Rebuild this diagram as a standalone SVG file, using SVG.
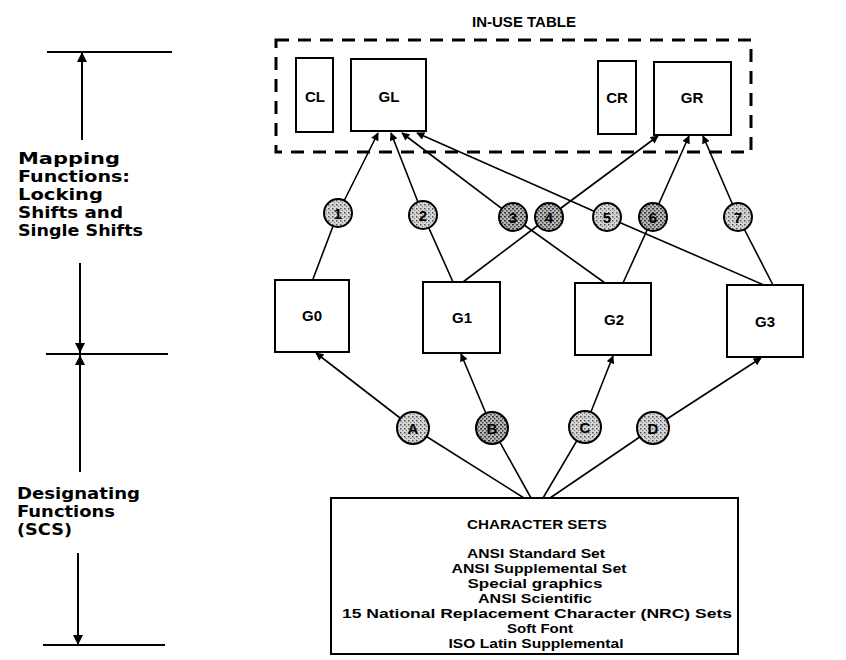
<svg xmlns="http://www.w3.org/2000/svg" width="846" height="660" viewBox="0 0 846 660">
<style>
.box{fill:#fff;stroke:#000;stroke-width:2}
.lbl{font-family:"Liberation Sans",Arial,sans-serif;font-weight:bold;font-size:15px;text-anchor:middle;fill:#000}
.cl{font-family:"Liberation Sans",Arial,sans-serif;font-weight:bold;font-size:15px;text-anchor:middle;fill:#000}
.side{font-family:"DejaVu Sans","Liberation Sans",sans-serif;font-weight:bold;font-size:15px;fill:#000}
.cs{font-family:"Liberation Sans",Arial,sans-serif;font-weight:bold;font-size:13.5px;text-anchor:middle;fill:#000}
.conn{fill:none;stroke:#000;stroke-width:1.6}
.dim{fill:none;stroke:#000;stroke-width:2}
.circ{stroke:#000;stroke-width:2}
</style>
<defs>
<pattern id="stip" width="4" height="4" patternUnits="userSpaceOnUse">
<rect width="4" height="4" fill="#d4d4d4"/>
<rect x="0" y="0" width="1.5" height="1.5" fill="#555"/>
<rect x="2" y="2" width="1" height="1" fill="#777"/>
</pattern>
<pattern id="stip2" width="4" height="4" patternUnits="userSpaceOnUse">
<rect width="4" height="4" fill="#b8b8b8"/>
<rect x="0" y="0" width="2" height="1.5" fill="#333"/>
<rect x="2" y="2" width="1.5" height="1.5" fill="#444"/>
</pattern>
<marker id="ah" viewBox="0 0 10 10" refX="9" refY="5" markerWidth="9" markerHeight="8" markerUnits="userSpaceOnUse" orient="auto">
<path d="M0,0 L10,5 L0,10 Z" fill="#000"/>
</marker>
<marker id="dh" viewBox="0 0 10 10" refX="10" refY="5" markerWidth="10" markerHeight="10" markerUnits="userSpaceOnUse" orient="auto">
<path d="M0,0 L10,5 L0,10 Z" fill="#000"/>
</marker>
</defs>

<text class="lbl" x="524" y="27" font-size="14.5">IN-USE TABLE</text>

<g id="inuse">
<rect x="276" y="40" width="475" height="112" fill="none" stroke="#000" stroke-width="3" stroke-dasharray="13 9"/>
</g>
<g id="CL"><rect class="box" x="296" y="58" width="37" height="74"/><text class="lbl" x="315" y="102">CL</text></g>
<g id="GL"><rect class="box" x="351" y="59" width="75" height="72"/><text class="lbl" x="389" y="102">GL</text></g>
<g id="CR"><rect class="box" x="598" y="61" width="38" height="73"/><text class="lbl" x="617" y="103">CR</text></g>
<g id="GR"><rect class="box" x="654" y="62" width="77" height="73"/><text class="lbl" x="692" y="103">GR</text></g>

<g id="G0"><rect class="box" x="275" y="280" width="74" height="72"/><text class="lbl" x="312" y="321">G0</text></g>
<g id="G1"><rect class="box" x="423" y="282" width="77" height="71"/><text class="lbl" x="462" y="323">G1</text></g>
<g id="G2"><rect class="box" x="575" y="283" width="76" height="72"/><text class="lbl" x="614" y="325">G2</text></g>
<g id="G3"><rect class="box" x="727" y="285" width="76" height="72"/><text class="lbl" x="765" y="327">G3</text></g>

<g id="charsets">
<rect class="box" x="331" y="498" width="407" height="156"/>
<text class="cs" x="537" y="529" textLength="140" lengthAdjust="spacingAndGlyphs">CHARACTER SETS</text>
<text class="cs" x="536" y="558" textLength="138" lengthAdjust="spacingAndGlyphs">ANSI Standard Set</text>
<text class="cs" x="539" y="573" textLength="175" lengthAdjust="spacingAndGlyphs">ANSI Supplemental Set</text>
<text class="cs" x="535" y="588" textLength="135" lengthAdjust="spacingAndGlyphs">Special graphics</text>
<text class="cs" x="535" y="603" textLength="114" lengthAdjust="spacingAndGlyphs">ANSI Scientific</text>
<text class="cs" x="537" y="618" textLength="390" lengthAdjust="spacingAndGlyphs">15 National Replacement Character (NRC) Sets</text>
<text class="cs" x="540" y="633" textLength="66" lengthAdjust="spacingAndGlyphs">Soft Font</text>
<text class="cs" x="536" y="648" textLength="175" lengthAdjust="spacingAndGlyphs">ISO Latin Supplemental</text>
</g>

<g id="connectors">
<polyline class="conn" points="313,279 338,213 378,133" marker-end="url(#ah)"/>
<polyline class="conn" points="453,282 423,215 391,133" marker-end="url(#ah)"/>
<polyline class="conn" points="605,283 513,217 402,133" marker-end="url(#ah)"/>
<polyline class="conn" points="463,282 549,217 658,136" marker-end="url(#ah)"/>
<polyline class="conn" points="764,285 607,217 417,133" marker-end="url(#ah)"/>
<polyline class="conn" points="623,283 653,217 689,136" marker-end="url(#ah)"/>
<polyline class="conn" points="773,285 738,217 703,136" marker-end="url(#ah)"/>
<polyline class="conn" points="524,498 413,428 316,353" marker-end="url(#ah)"/>
<polyline class="conn" points="531,498 492,428 461,354" marker-end="url(#ah)"/>
<polyline class="conn" points="543,498 585,427 613,356" marker-end="url(#ah)"/>
<polyline class="conn" points="550,498 653,428 761,358" marker-end="url(#ah)"/>
</g>

<g id="c1"><circle class="circ" cx="338" cy="213" r="14" fill="url(#stip)"/><text class="cl" x="338" y="218.5">1</text></g>
<g id="c2"><circle class="circ" cx="423" cy="215" r="14" fill="url(#stip)"/><text class="cl" x="423" y="220.5">2</text></g>
<g id="c3"><circle class="circ" cx="513" cy="217" r="14" fill="url(#stip2)"/><text class="cl" x="513" y="222.5">3</text></g>
<g id="c4"><circle class="circ" cx="549" cy="217" r="14" fill="url(#stip2)"/><text class="cl" x="549" y="222.5">4</text></g>
<g id="c5"><circle class="circ" cx="607" cy="217" r="14" fill="url(#stip)"/><text class="cl" x="607" y="222.5">5</text></g>
<g id="c6"><circle class="circ" cx="653" cy="217" r="14" fill="url(#stip2)"/><text class="cl" x="653" y="222.5">6</text></g>
<g id="c7"><circle class="circ" cx="738" cy="217" r="14" fill="url(#stip)"/><text class="cl" x="738" y="222.5">7</text></g>
<g id="cA"><circle class="circ" cx="413" cy="428" r="16" fill="url(#stip)"/><text class="cl" x="413" y="433.5">A</text></g>
<g id="cB"><circle class="circ" cx="492" cy="428" r="16" fill="url(#stip2)"/><text class="cl" x="492" y="433.5">B</text></g>
<g id="cC"><circle class="circ" cx="585" cy="427" r="16" fill="url(#stip)"/><text class="cl" x="585" y="432.5">C</text></g>
<g id="cD"><circle class="circ" cx="653" cy="428" r="16" fill="url(#stip)"/><text class="cl" x="653" y="433.5">D</text></g>

<g id="dims">
<line class="dim" x1="47" y1="52" x2="172" y2="52"/>
<line class="dim" x1="82" y1="140" x2="82" y2="52" marker-end="url(#dh)"/>
<line class="dim" x1="80" y1="263" x2="80" y2="353" marker-end="url(#dh)"/>
<line class="dim" x1="46" y1="354" x2="168" y2="354"/>
<line class="dim" x1="80" y1="472" x2="80" y2="355" marker-end="url(#dh)"/>
<line class="dim" x1="78" y1="553" x2="78" y2="645" marker-end="url(#dh)"/>
<line class="dim" x1="43" y1="645" x2="165" y2="645"/>
</g>

<g id="mapping-label">
<text class="side" x="18" y="164" textLength="102" lengthAdjust="spacingAndGlyphs">Mapping</text>
<text class="side" x="18" y="182" textLength="112" lengthAdjust="spacingAndGlyphs">Functions:</text>
<text class="side" x="18" y="200" textLength="85" lengthAdjust="spacingAndGlyphs">Locking</text>
<text class="side" x="18" y="218" textLength="105" lengthAdjust="spacingAndGlyphs">Shifts and</text>
<text class="side" x="18" y="236" textLength="125" lengthAdjust="spacingAndGlyphs">Single Shifts</text>
</g>
<g id="designating-label">
<text class="side" x="17" y="499" textLength="123" lengthAdjust="spacingAndGlyphs">Designating</text>
<text class="side" x="17" y="517" textLength="98" lengthAdjust="spacingAndGlyphs">Functions</text>
<text class="side" x="17" y="535" textLength="55" lengthAdjust="spacingAndGlyphs">(SCS)</text>
</g>
</svg>
